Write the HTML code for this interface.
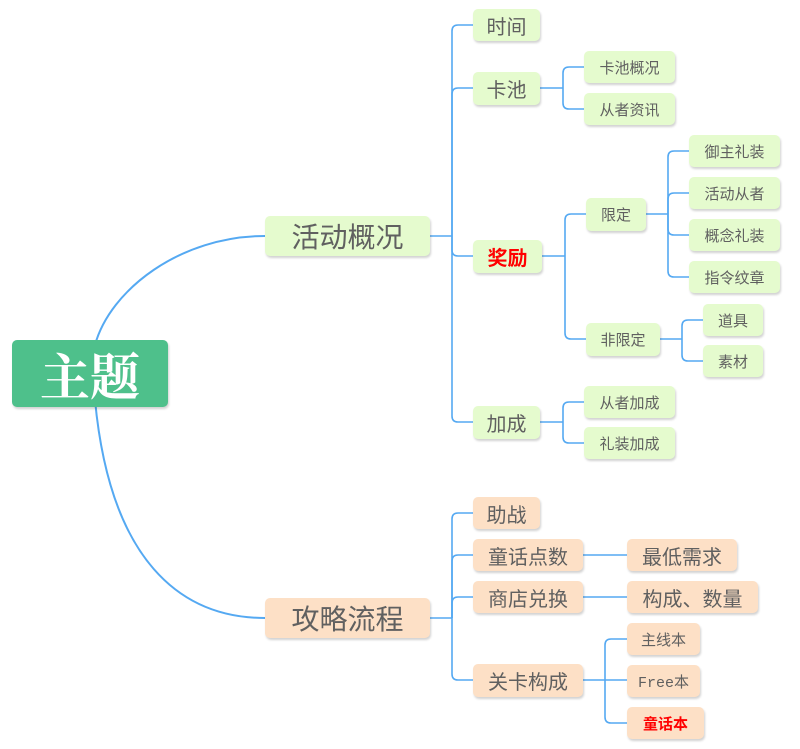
<!DOCTYPE html>
<html><head><meta charset="utf-8"><style>
body{margin:0;width:800px;height:749px;background:#fff;position:relative;overflow:hidden;font-family:"Liberation Sans","Noto Sans CJK SC",sans-serif}
.n{position:absolute;box-sizing:border-box;border-radius:5px;display:flex;align-items:center;justify-content:center;color:#606060;box-shadow:1px 2px 2px rgba(0,0,0,0.18);white-space:nowrap}
.g{background:#e5fbce}.o{background:#fde0c6}
.l2{font-size:20px}.l3{font-size:15px}
.red{color:#f00;font-weight:bold}
svg{position:absolute;left:0;top:0}
</style></head><body>
<svg width="800" height="749" fill="none" stroke="#55a9f2" stroke-width="1.6">
<path d="M95 345 C110 290 180 236 265 236" stroke-width="2"/>
<path d="M95 400 C110 560 180 618 265 618" stroke-width="2"/>
<path d="M430 236H452"/>
<path d="M452 236V31Q452 25 458 25H473"/>
<path d="M452 236V94Q452 88 458 88H473"/>
<path d="M452 236V250Q452 256 458 256H473"/>
<path d="M452 236V416Q452 422 458 422H473"/>
<path d="M540 88H563"/>
<path d="M563 88V73Q563 67 569 67H584"/>
<path d="M563 88V103Q563 109 569 109H584"/>
<path d="M542 256H565"/>
<path d="M565 256V220Q565 214 571 214H586"/>
<path d="M565 256V333Q565 339 571 339H586"/>
<path d="M646 214H668"/>
<path d="M668 214V157Q668 151 674 151H689"/>
<path d="M668 214V199Q668 193 674 193H689"/>
<path d="M668 214V229Q668 235 674 235H689"/>
<path d="M668 214V271Q668 277 674 277H689"/>
<path d="M660 339H682"/>
<path d="M682 339V326Q682 320 688 320H703"/>
<path d="M682 339V355Q682 361 688 361H703"/>
<path d="M540 422H563"/>
<path d="M563 422V408Q563 402 569 402H584"/>
<path d="M563 422V437Q563 443 569 443H584"/>
<path d="M430 618H452"/>
<path d="M452 618V519Q452 513 458 513H473"/>
<path d="M452 618V561Q452 555 458 555H473"/>
<path d="M452 618V603Q452 597 458 597H473"/>
<path d="M452 618V674Q452 680 458 680H473"/>
<path d="M583 555H627"/>
<path d="M583 597H627"/>
<path d="M583 680H605"/>
<path d="M605 680V645Q605 639 611 639H627"/>
<path d="M605 680H627"/>
<path d="M605 680V717Q605 723 611 723H627"/>
</svg>
<div class="n" style="left:12px;top:340px;width:156px;height:67px;background:#4ec08b;color:#fff;font-size:50px;font-weight:bold;font-family:'Noto Serif CJK SC',serif">主题</div>
<div class="n g" style="left:265px;top:216px;width:165px;height:40px;font-size:28px">活动概况</div>
<div class="n o" style="left:265px;top:598px;width:165px;height:40px;font-size:28px">攻略流程</div>

<div class="n g l2" style="left:473px;top:9px;width:67px;height:32px">时间</div>
<div class="n g l2" style="left:473px;top:72px;width:67px;height:33px">卡池</div>
<div class="n g l2 red" style="left:473px;top:240px;width:69px;height:33px">奖励</div>
<div class="n g l2" style="left:473px;top:406px;width:67px;height:33px">加成</div>

<div class="n g l3" style="left:584px;top:51px;width:91px;height:32px">卡池概况</div>
<div class="n g l3" style="left:584px;top:93px;width:91px;height:32px">从者资讯</div>
<div class="n g l3" style="left:586px;top:198px;width:60px;height:33px">限定</div>
<div class="n g l3" style="left:586px;top:323px;width:74px;height:33px">非限定</div>
<div class="n g l3" style="left:689px;top:135px;width:91px;height:32px">御主礼装</div>
<div class="n g l3" style="left:689px;top:177px;width:91px;height:32px">活动从者</div>
<div class="n g l3" style="left:689px;top:219px;width:91px;height:32px">概念礼装</div>
<div class="n g l3" style="left:689px;top:261px;width:91px;height:32px">指令纹章</div>
<div class="n g l3" style="left:703px;top:304px;width:60px;height:32px">道具</div>
<div class="n g l3" style="left:703px;top:345px;width:60px;height:32px">素材</div>
<div class="n g l3" style="left:584px;top:386px;width:91px;height:32px">从者加成</div>
<div class="n g l3" style="left:584px;top:427px;width:91px;height:32px">礼装加成</div>

<div class="n o l2" style="left:473px;top:497px;width:67px;height:32px">助战</div>
<div class="n o l2" style="left:473px;top:539px;width:110px;height:32px">童话点数</div>
<div class="n o l2" style="left:473px;top:581px;width:110px;height:32px">商店兑换</div>
<div class="n o l2" style="left:473px;top:664px;width:110px;height:33px">关卡构成</div>
<div class="n o l2" style="left:627px;top:539px;width:110px;height:32px">最低需求</div>
<div class="n o l2" style="left:627px;top:581px;width:131px;height:32px">构成、数量</div>
<div class="n o l3" style="left:627px;top:623px;width:73px;height:32px">主线本</div>
<div class="n o l3" style="left:627px;top:665px;width:73px;height:32px;font-family:'Liberation Mono','Noto Sans CJK SC',monospace">Free本</div>
<div class="n o l3 red" style="left:627px;top:707px;width:77px;height:32px">童话本</div>
</body></html>
